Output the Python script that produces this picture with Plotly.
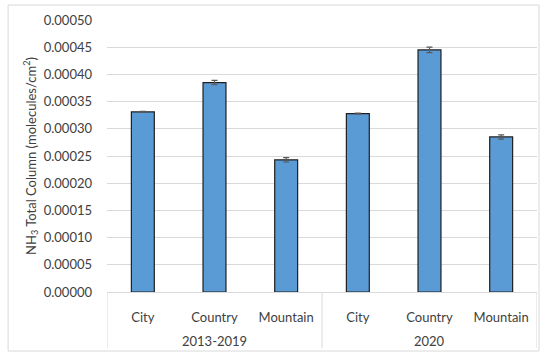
import plotly.graph_objects as go

# Site categories grouped by period
periods = ["2013-2019", "2013-2019", "2013-2019", "2020", "2020", "2020"]
sites = ["City", "Country", "Mountain", "City", "Country", "Mountain"]

# Mean NH3 total column and its uncertainty
nh3_mean = [0.000331, 0.000385, 0.000243, 0.000328, 0.000445, 0.000285]
nh3_err = [0.000001, 0.000004, 0.000004, 0.000001, 0.000005, 0.000004]

y_ticks = [0.00000, 0.00005, 0.00010, 0.00015, 0.00020, 0.00025,
           0.00030, 0.00035, 0.00040, 0.00045, 0.00050]

font_family = "Lato, 'Open Sans', sans-serif"
text_color = "#404040"
line_gray = "#d9d9d9"
fs = 13

positions = list(range(len(sites)))

fig = go.Figure(
    go.Bar(
        x=positions,
        y=nh3_mean,
        width=0.32,
        marker=dict(color="#5b9bd5", line=dict(color="#1f1f1f", width=1.2)),
        error_y=dict(type="data", array=nh3_err, color="#595959",
                     thickness=1.2, width=3),
    )
)

fig.update_layout(
    width=540,
    height=354,
    margin=dict(l=107, r=3, t=20, b=62),
    paper_bgcolor="white",
    plot_bgcolor="white",
    showlegend=False,
    font=dict(family=font_family, size=fs, color=text_color),
)

fig.update_yaxes(
    range=[0, 0.0005],
    tickvals=y_ticks,
    ticktext=[f"{v:.5f}" for v in y_ticks],
    showgrid=True,
    gridcolor=line_gray,
    gridwidth=1,
    zeroline=False,
    showline=False,
    ticks="",
    ticklabelstandoff=14,
    tickfont=dict(size=fs, color=text_color),
    title=dict(
        text="NH<sub>3</sub> Total Column (molecules/cm<sup>2</sup>)",
        font=dict(size=fs, color=text_color),
        standoff=4,
    ),
)

fig.update_xaxes(
    range=[-0.5, len(sites) - 0.5],
    tickvals=positions,
    ticktext=sites,
    showgrid=False,
    zeroline=False,
    showline=True,
    linecolor=line_gray,
    linewidth=1,
    ticks="",
    ticklabelstandoff=13,
    tickfont=dict(size=fs, color=text_color),
)

# Group labels and group dividers below the category labels
groups = []
for i, p in enumerate(periods):
    if not groups or groups[-1][0] != p:
        groups.append([p, i, i])
    else:
        groups[-1][2] = i

for name, first, last in groups:
    fig.add_annotation(
        x=(first + last) / 2, y=-0.179, xref="x", yref="paper",
        text=name, showarrow=False, yanchor="middle",
        font=dict(size=fs, color=text_color),
    )

edges = [groups[0][1] - 0.5] + [g[2] + 0.5 for g in groups]
for e in edges:
    fig.add_shape(
        type="line", xref="x", yref="paper",
        x0=e, x1=e, y0=0, y1=-0.206,
        line=dict(color=line_gray, width=1),
    )

# Outer chart frame
fig.add_shape(
    type="rect", xref="paper", yref="paper",
    x0=-0.230, x1=1.0047, y0=-0.217, y1=1.055,
    line=dict(color=line_gray, width=1), layer="below",
)

fig.write_html("out.html")
